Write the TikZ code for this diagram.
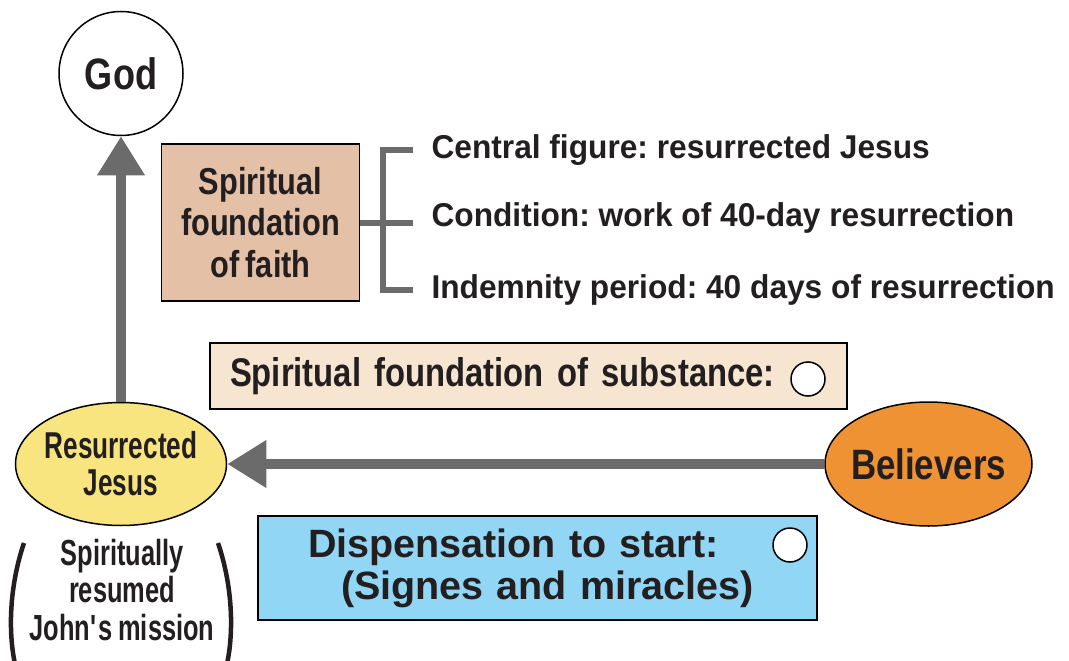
\documentclass[tikz,border=0pt]{standalone}
\usepackage{fontspec}
\setmainfont{Liberation Sans}
\newfontfamily\listfont{Liberation Sans}[FakeStretch=0.96]
\newfontfamily\condfont{Liberation Sans}[FakeStretch=0.82, WordSpace=0.75]
\newfontfamily\narrowfont{Liberation Sans}[FakeStretch=0.7, WordSpace=0.75]
\usetikzlibrary{arrows.meta,shapes.geometric}
\frenchspacing
\definecolor{arrowgray}{HTML}{6B6B6B}
\definecolor{ink}{HTML}{231F20}
\definecolor{faithtan}{HTML}{E3C0A6}
\definecolor{substbeige}{HTML}{F6E5D1}
\definecolor{jesusyellow}{HTML}{F8E57F}
\definecolor{believerorange}{HTML}{EE9233}
\definecolor{dispblue}{HTML}{92D6F5}
\tikzset{
  outlined/.style={draw=black, line width=1.5pt, text=ink, inner sep=0pt},
  oval/.style={ellipse, outlined, inner xsep=-10pt},
  bigarrow/.style={-{Triangle[width=45pt,length=39pt]}, line width=10pt, draw=arrowgray},
  bracket/.style={line width=6pt, draw=arrowgray},
  markcircle/.style={circle, draw=black, line width=1.5pt, fill=white, minimum size=34pt, inner sep=0pt},
  itemtext/.style={anchor=west, text=ink, font=\listfont\bfseries\fontsize{33}{36}\selectfont},
  paren/.style={line width=4.5pt, draw=ink}
}
\begin{document}
\begin{tikzpicture}[x=1pt,y=-1pt]
        \useasboundingbox (0,0) rectangle (1069,661);
        \clip (0,0) rectangle (1069,661);
        \node (god) [circle, outlined, fill=white, minimum size=124pt, font=\condfont\bfseries\fontsize{44}{44}\selectfont] at (121,73.5) {God};
        \node (faith) [outlined, fill=faithtan, minimum width=198pt, minimum height=157pt, align=center, font=\condfont\bfseries\fontsize{37.5}{41.5}\selectfont] at (260.5,222.5) {Spiritual\\foundation\\of faith};
        \node (central) [itemtext] at (428,150) {Central figure: resurrected Jesus};
        \node (condition) [itemtext] at (428,218) {Condition: work of 40-day resurrection};
        \node (indemnity) [itemtext] at (428,290) {Indemnity period: 40 days of resurrection};
        \node (substance) [outlined, fill=substbeige, minimum height=66pt, text width=597pt, inner xsep=20pt, align=left, font=\condfont\bfseries\fontsize{40}{44}\selectfont] at (528.5,376) {Spiritual foundation of substance:};
        \node (substmark) [markcircle] at (808,379) {};
        \node (jesus) [oval, fill=jesusyellow, minimum width=211pt, minimum height=123pt, align=center, font=\narrowfont\bfseries\fontsize{37.4}{37}\selectfont] at (121,464) {Resurrected\\Jesus};
        \node (believers) [oval, fill=believerorange, minimum width=207pt, minimum height=124pt, font=\condfont\bfseries\fontsize{42.5}{44}\selectfont] at (928.5,464) {Believers};
        \node (dispensation) [outlined, fill=dispblue, minimum height=104pt, text width=459pt, inner xsep=50pt, align=left, font=\bfseries\fontsize{39.5}{42}\selectfont] at (537.5,568) {Dispensation to start:\\\hspace*{33pt}(Signes and miracles)};
        \node (dispmark) [markcircle] at (790,545) {};
        \node (mission) [align=center, text=ink, font=\narrowfont\bfseries\fontsize{36.3}{37.5}\selectfont] at (122,590) {Spiritually\\resumed\\John\textquotesingle s mission};
        \draw[bigarrow] (jesus) -- (god);
        \draw[bigarrow] (believers) -- (jesus);
        \coordinate (fork) at (383,220);
        \draw[bracket] ([xshift=-15pt]central.west) -| (fork) |- ([xshift=-15pt]indemnity.west);
        \draw[bracket, shorten >=15pt] (faith.east) -- (faith.east -| condition.west);
        \draw[paren] (24,543) .. controls (8,590) and (8,640) .. (17,672);
        \draw[paren] (218,543) .. controls (234,590) and (234,640) .. (225,672);
    \end{tikzpicture}
\end{document}
